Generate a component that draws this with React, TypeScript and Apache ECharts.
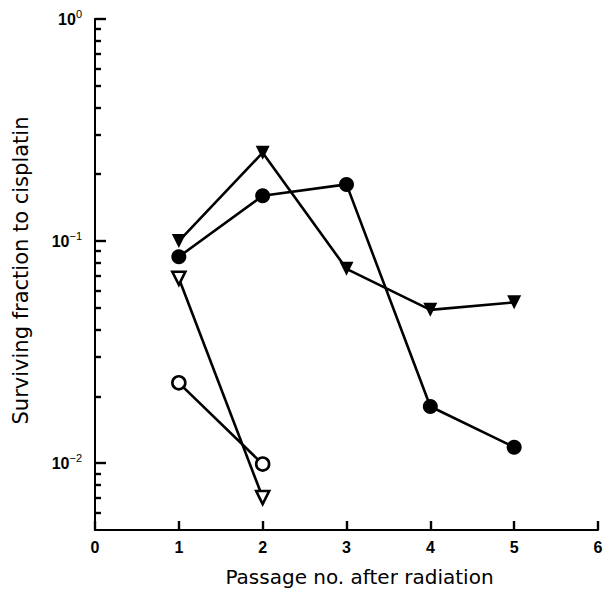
import React, { useEffect, useRef } from "react";
import * as echarts from "echarts";

const passages = [1, 2, 3, 4, 5];
const filledTriangle = [0.1, 0.25, 0.075, 0.049, 0.053];
const filledCircle = [0.085, 0.16, 0.18, 0.018, 0.0118];
const openTrianglePassages = [1, 2];
const openTriangle = [0.068, 0.007];
const openCirclePassages = [1, 2];
const openCircle = [0.023, 0.0099];

const yMin = 0.005;
const yMax = 1;
const majorTicks = [0.01, 0.1, 1];
const majorLabels = ["−2", "−1", "0"];
const minorTicks = [
  0.006, 0.007, 0.008, 0.009,
  0.02, 0.03, 0.04, 0.05, 0.06, 0.07, 0.08, 0.09,
  0.2, 0.3, 0.4, 0.5, 0.6, 0.7, 0.8, 0.9,
];
const xTicks = [0, 1, 2, 3, 4, 5, 6];

const FONT = "Liberation Sans";
const TITLE_FONT = "DejaVu Sans";
const TICK = "#000";

function pts(xs: number[], ys: number[]) {
  return xs.map((x, i) => [x, Math.log10(ys[i])]);
}

export default function App() {
  const ref = useRef<HTMLDivElement>(null);
  useEffect(() => {
    if (!ref.current) return;
    const chart = echarts.init(ref.current, undefined, { renderer: "svg" });
    const lineStyle = { color: "#000", width: 2.6 };
    const filled = { color: "#000" };
    const open = { color: "#fff", borderColor: "#000", borderWidth: 2.6 };
    const majorLog = majorTicks.map((v) => Math.log10(v));
    const minorLog = minorTicks.map((v) => Math.log10(v));
    const yLo = Math.log10(yMin);
    chart.setOption({
      animation: false,
      backgroundColor: "#fff",
      grid: { left: 95, right: 17, top: 19, bottom: 62 },
      xAxis: {
        type: "value",
        min: 0,
        max: 6,
        interval: 1,
        name: "Passage no. after radiation",
        nameLocation: "middle",
        nameGap: 37,
        nameTextStyle: { fontFamily: TITLE_FONT, fontSize: 20, color: "#000", padding: [0, 0, 0, 26] },
        axisLine: { show: true, onZero: false, lineStyle: { color: "#000", width: 2 } },
        axisTick: { show: true, inside: true, length: 9, lineStyle: { color: TICK, width: 2.4 } },
        axisLabel: { show: true, customValues: xTicks, margin: 9, fontFamily: FONT, fontSize: 16, fontWeight: "bold", color: "#000" },
        splitLine: { show: false },
      },
      yAxis: [
        {
          type: "value",
          min: yLo,
          max: Math.log10(yMax),
          name: "Surviving fraction to cisplatin",
          nameLocation: "middle",
          nameGap: 64,
          nameTextStyle: { fontFamily: TITLE_FONT, fontSize: 21, color: "#000", padding: [0, 0, 0, 8] },
          axisLine: { show: true, onZero: false, lineStyle: { color: "#000", width: 2 } },
          axisTick: { show: true, inside: true, length: 11, customValues: majorLog, lineStyle: { color: TICK, width: 2.4 } },
          axisLabel: {
            show: true,
            customValues: majorLog,
            margin: 13,
            formatter: (v: number) => {
              const i = majorLog.findIndex((m) => Math.abs(m - v) < 1e-6);
              return "{b|10}{s|" + (i >= 0 ? majorLabels[i] : "") + "}";
            },
            rich: {
              b: { fontFamily: FONT, fontSize: 16, fontWeight: "bold", color: "#000" },
              s: { fontFamily: FONT, fontSize: 11, color: "#000", padding: [0, 0, 10, 0] },
            },
          },
          splitLine: { show: false },
        },
        {
          type: "value",
          min: yLo,
          max: Math.log10(yMax),
          position: "left",
          axisLine: { show: true, onZero: false, lineStyle: { color: "#000", width: 2 } },
          axisTick: { show: true, inside: true, length: 6, customValues: minorLog, lineStyle: { color: TICK, width: 2.4 } },
          axisLabel: { show: false },
          splitLine: { show: false },
        },
      ],
      series: [
        {
          type: "line",
          data: pts(passages, filledTriangle),
          symbol: "triangle",
          symbolRotate: 180,
          symbolSize: 14,
          lineStyle,
          itemStyle: filled,
        },
        {
          type: "line",
          data: pts(passages, filledCircle),
          symbol: "circle",
          symbolSize: 15,
          lineStyle,
          itemStyle: filled,
        },
        {
          type: "line",
          data: pts(openTrianglePassages, openTriangle),
          symbol: "triangle",
          symbolRotate: 180,
          symbolSize: 13,
          lineStyle,
          itemStyle: open,
        },
        {
          type: "line",
          data: pts(openCirclePassages, openCircle),
          symbol: "circle",
          symbolSize: 13,
          lineStyle,
          itemStyle: open,
        },
      ],
    });
    return () => chart.dispose();
  }, []);
  return <div ref={ref} style={{ width: 615, height: 592, position: "absolute", left: 0, top: 0 }} />;
}
